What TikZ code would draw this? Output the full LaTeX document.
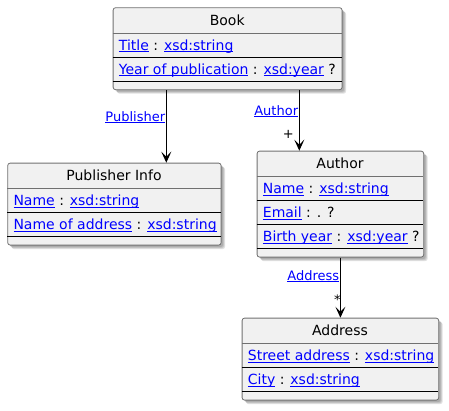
\documentclass[tikz,border=0pt]{standalone}
\usepackage{fontspec}
\usepackage{xcolor}
\usetikzlibrary{arrows.meta}
\setmainfont{DejaVu Sans}

\definecolor{linkblue}{RGB}{0,0,255}
% underlined link text
\newcommand\lnk[1]{\textcolor{linkblue}{\setbox0\hbox{#1}\rlap{\rule[-1.7pt]{\wd0}{0.9pt}}\box0}}

\begin{document}
\begin{tikzpicture}[x=1pt,y=-1pt,
  classbox/.style={draw=classborder, fill=classfill, rounded corners=2.5pt, line width=0.8pt,
    inner sep=0pt, anchor=north west,
    preaction={fill=black, opacity=0.12, transform canvas={xshift=2pt,yshift=-2pt}},
    preaction={fill=black, opacity=0.12, transform canvas={xshift=3pt,yshift=-3pt}},
    preaction={fill=black, opacity=0.12, transform canvas={xshift=4pt,yshift=-4pt}}},
  classname/.style={anchor=base, inner sep=0pt, font=\fontsize{14}{16}\selectfont},
  attr/.style={anchor=base west, inner sep=0pt, font=\fontsize{14}{16}\selectfont},
  titleline/.style={draw=classborder, line width=0.8pt},
  rowline/.style={draw=black, line width=0.9pt},
  assoc/.style={draw=black, line width=1pt, -{Stealth[length=11pt,width=10pt,inset=5pt]}},
  rolename/.style={anchor=base east, inner sep=0pt, font=\fontsize{13}{15}\selectfont},
  mult/.style={inner sep=0pt, font=\fontsize{13}{15}\selectfont}]
% Define colors
\definecolor{classfill}{RGB}{241,241,241}
\definecolor{classborder}{RGB}{112,112,112}

\useasboundingbox (0,0) rectangle (449,410);

% Book
\node[classbox, minimum width=229pt, minimum height=82pt] (book) at (112.7,7.3) {};
\node[classname] (bookname) at (227.2,25.3) {Book};
\draw[titleline] (112.7,33.3) -- (341.7,33.3);
\node[attr] (booktitle) at (118.7,50.3) {\lnk{Title} : \lnk{xsd:string}};
\draw[rowline] (112.7,57.3) -- (341.7,57.3);
\node[attr] (bookyear) at (118.7,74.3) {\lnk{Year of publication} : \lnk{xsd:year} ?};
\draw[rowline] (112.7,81.3) -- (341.7,81.3);

% Publisher Info
\node[classbox, minimum width=213.4pt, minimum height=82pt] (publisher) at (7.3,162.7) {};
\node[classname] (publishername) at (114,180.7) {Publisher Info};
\draw[titleline] (7.3,188.7) -- (220.7,188.7);
\node[attr] (publishername2) at (13.3,205.7) {\lnk{Name} : \lnk{xsd:string}};
\draw[rowline] (7.3,212.7) -- (220.7,212.7);
\node[attr] (publisheraddr) at (13.3,229.7) {\lnk{Name of address} : \lnk{xsd:string}};
\draw[rowline] (7.3,236.7) -- (220.7,236.7);

% Author
\node[classbox, minimum width=166.6pt, minimum height=106pt] (author) at (256.7,150.7) {};
\node[classname] (authorname) at (340,168.7) {Author};
\draw[titleline] (256.7,176.7) -- (423.3,176.7);
\node[attr] (authorname2) at (262.7,193.7) {\lnk{Name} : \lnk{xsd:string}};
\draw[rowline] (256.7,200.7) -- (423.3,200.7);
\node[attr] (authormail) at (262.7,217.7) {\lnk{Email} : . ?};
\draw[rowline] (256.7,224.7) -- (423.3,224.7);
\node[attr] (authorbirth) at (262.7,241.7) {\lnk{Birth year} : \lnk{xsd:year} ?};
\draw[rowline] (256.7,248.7) -- (423.3,248.7);

% Address
\node[classbox, minimum width=196.6pt, minimum height=82pt] (address) at (241.7,317.7) {};
\node[classname] (addressname) at (340,335.7) {Address};
\draw[titleline] (241.7,343.7) -- (438.3,343.7);
\node[attr] (addressstreet) at (247.7,360.7) {\lnk{Street address} : \lnk{xsd:string}};
\draw[rowline] (241.7,367.7) -- (438.3,367.7);
\node[attr] (addresscity) at (247.7,384.7) {\lnk{City} : \lnk{xsd:string}};
\draw[rowline] (241.7,391.7) -- (438.3,391.7);

% Associations
\coordinate (pubx) at (166.3,0);
\coordinate (authx) at (299.3,0);
\draw[assoc] (book.south -| pubx) -- (publisher.north -| pubx);
\draw[assoc] (book.south -| authx) -- (author.north -| authx);
\draw[assoc] (author.south) -- (address.north);

% Role names and multiplicities
\node[rolename] (publisherrole) at (165.3,121) {\lnk{Publisher}};
\node[rolename] (authorrole) at (298.3,115.5) {\lnk{Author}};
\node[mult] (authormult) at (288.3,134.3) {+};
\node[rolename] (addressrole) at (339.3,280.5) {\lnk{Address}};
\node[mult] (addressmult) at (337.3,299.5) {*};

\end{tikzpicture}
\end{document}
